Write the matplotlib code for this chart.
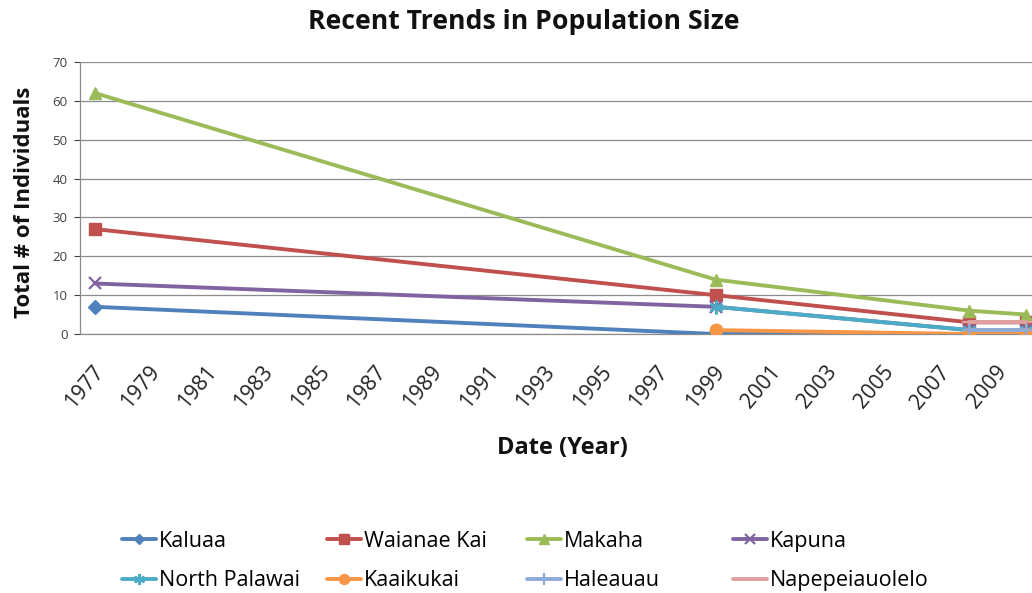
import numpy as np
import matplotlib.pyplot as plt
from matplotlib.transforms import ScaledTranslation

plt.rcParams["font.family"] = ["Open Sans", "DejaVu Sans"]

years = [1977, 1999, 2008, 2010]
nan = np.nan

kaluaa = [7, 0, 0, 0]
waianae_kai = [27, 10, 3, 3]
makaha = [62, 14, 6, 5]
kapuna = [13, 7, 1, 1]
north_palawai = [nan, 7, 1, 1]
kaaikukai = [nan, 1, 0, 0]
haleauau = [nan, nan, 1, 1]
napepeiauolelo = [nan, nan, 3, 3]

names = ["Kaluaa", "Waianae Kai", "Makaha", "Kapuna",
         "North Palawai", "Kaaikukai", "Haleauau", "Napepeiauolelo"]
values = [kaluaa, waianae_kai, makaha, kapuna,
          north_palawai, kaaikukai, haleauau, napepeiauolelo]
colors = ["#4F81BD", "#C0504D", "#9BBB59", "#8064A2",
          "#4BACC6", "#F79646", "#8EAAD8", "#DFA09E"]
markers = ["D", "s", "^", "x", (6, 2, 0), "o", "+", "_"]
msizes = [7, 9, 9, 9, 10, 9, 10, 10]

x_ticks = list(range(1977, 2010, 2))

fig = plt.figure(figsize=(10.32, 5.93), dpi=100)
W, H = 1032, 593
# axes placed in pixel terms: left 80, top 62, bottom 334
ax = fig.add_axes([80 / W, 1 - 334 / H, 960 / W, 272 / H])

lines = []
for name, vals, c, m, ms in zip(names, values, colors, markers, msizes):
    y = np.array(vals, dtype=float)
    ok = ~np.isnan(y)
    thin = m in ("x", "+", "_", (6, 2, 0))
    ln, = ax.plot(np.array(years)[ok], y[ok], color=c, lw=2.8, marker=m,
                  ms=ms, mew=1.6 if thin else 1, mec=c, mfc=c, label=name,
                  solid_capstyle="round", zorder=3)
    lines.append(ln)

ax.set_xlim(1976.47, 2010.5)
ax.set_ylim(0, 70)
ax.set_yticks(range(0, 71, 10))
ax.set_xticks(x_ticks)
ax.set_xticklabels([str(t) for t in x_ticks], rotation=50, ha="right",
                   va="top", rotation_mode="anchor", fontsize=15.3)
ax.tick_params(axis="y", labelsize=9.5, colors="#404040", length=4, width=0.8,
               pad=5)
ax.tick_params(axis="x", length=0, pad=20, labelcolor="#222222")
shift = ScaledTranslation(-3 / 100, 0, fig.dpi_scale_trans)
for lab in ax.get_xticklabels():
    lab.set_transform(lab.get_transform() + shift)
ax.yaxis.grid(True, color="#8c8c8c", lw=0.9)
ax.set_axisbelow(True)
for s in ("top", "right"):
    ax.spines[s].set_visible(False)
for s in ("left", "bottom"):
    ax.spines[s].set_color("#8c8c8c")
    ax.spines[s].set_linewidth(0.9)

fig.text(524 / W, 1 - 22 / H, "Recent Trends in Population Size",
         ha="center", va="center", fontsize=19.2, fontweight="bold", color="#111111")
fig.text(25 / W, 1 - 202 / H, "Total # of Individuals", rotation=90,
         ha="center", va="center", fontsize=16, fontweight="bold", color="#111111")
fig.text(562 / W, 1 - 448 / H, "Date (Year)", ha="center", va="center",
         fontsize=17, fontweight="bold", color="#111111")

col_x = [122, 327, 527, 733]
for c, x0 in enumerate(col_x):
    hs = [lines[c], lines[c + 4]]
    fig.legend(hs, [h.get_label() for h in hs], loc="upper left",
               bbox_to_anchor=(x0 / W, 1 - 531 / H), frameon=False,
               fontsize=15.5, handlelength=1.6, handletextpad=0.1,
               labelspacing=0.85, borderpad=0, borderaxespad=0,
               markerscale=0.8)

fig.savefig("out.png", dpi=100)
